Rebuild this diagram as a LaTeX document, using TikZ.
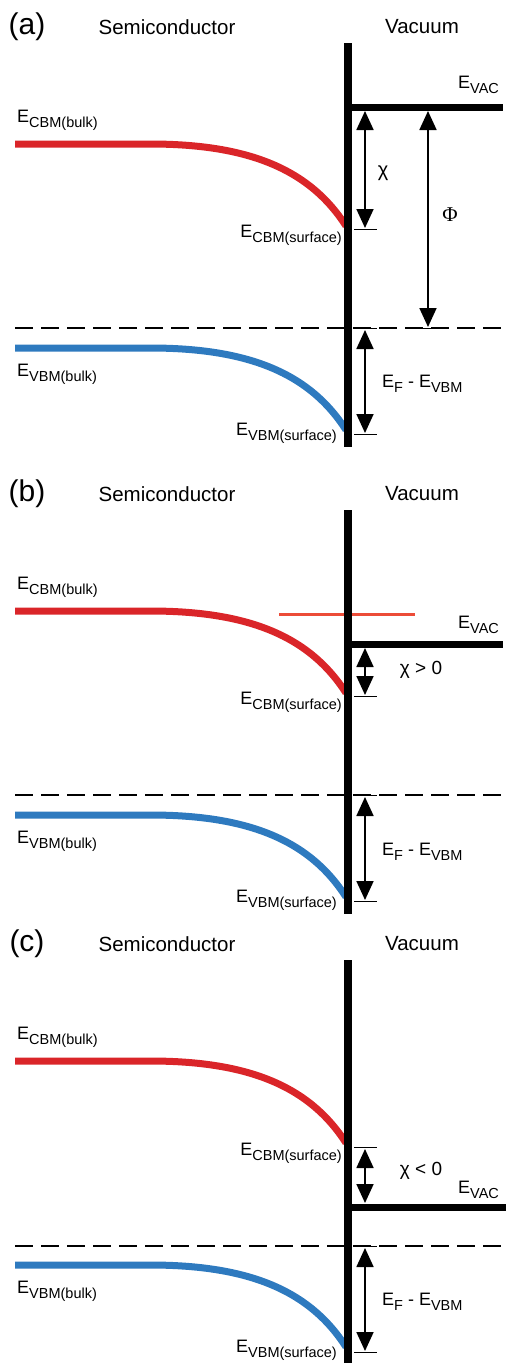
\documentclass[tikz,border=0pt]{standalone}
\usepackage{fontspec}
\setmainfont{Liberation Sans}
\newfontfamily\phifont{Liberation Serif}
\usetikzlibrary{arrows.meta}

\definecolor{cbmred}{RGB}{218,37,41}
\definecolor{vbmblue}{RGB}{46,122,191}
\definecolor{vacred}{RGB}{236,76,56}

\newcommand{\lvl}[1]{E\raisebox{-5.5pt}{\fontsize{14.5}{14}\selectfont #1}}

\begin{document}
\begin{tikzpicture}[
    x=1pt, y=-1pt,
    font=\fontsize{18}{20}\selectfont,
    panel/.style={font=\fontsize{30}{32}\selectfont, inner sep=0},
    region/.style={font=\fontsize{20.5}{22}\selectfont, inner sep=0},
    level/.style={inner sep=0},
    wall/.style={line width=7.5pt},
    vaclevel/.style={line width=7pt},
    cband/.style={cbmred, line width=7pt},
    vband/.style={vbmblue, line width=7pt},
    fermi/.style={line width=2pt, dash pattern=on 18pt off 8pt},
    dim/.style={{Triangle[length=19pt,width=17pt]}-{Triangle[length=19pt,width=17pt]}, line width=1.8pt},
    tick/.style={line width=0.8pt}
]
\useasboundingbox (0,0) rectangle (506,1363);

% ---------------- Panel (a) ----------------
\node[panel] (lbl-a) at (27,27) {(a)};
\node[region] (semi-a) at (167,27) {Semiconductor};
\node[region] (vac-a) at (422,27) {Vacuum};

\coordinate (bartop-a) at (348,43);
\coordinate (barbot-a) at (348,447);
\coordinate (cb0-a) at (15,144);
\coordinate (cbs-a) at (346,226);
\coordinate (vb0-a) at (15,348);
\coordinate (vbs-a) at (346,430);
\coordinate (ef0-a) at (15,328);
\coordinate (ef1-a) at (506,328);
\coordinate (vac0-a) at (348,107);
\coordinate (vac1-a) at (503,107);

\draw[fermi] (ef0-a) -- (ef1-a);
\draw[cband] (cb0-a) -- ++(135,0) .. controls +(100,0) and +(-36,-56) .. (cbs-a);
\draw[vband] (vb0-a) -- ++(135,0) .. controls +(100,0) and +(-36,-56) .. (vbs-a);
\draw[vaclevel] (vac0-a) -- (vac1-a);
\draw[wall] (bartop-a) -- (barbot-a);

\coordinate (chitop-a) at (365,111);
\coordinate (chibot-a) at (365,228);
\coordinate (phitop-a) at (428,111);
\coordinate (phibot-a) at (428,327);
\coordinate (eftop-a) at (365,330);
\coordinate (efbot-a) at (365,433);
\draw[dim] (chitop-a) -- (chibot-a);
\draw[dim] (phitop-a) -- (phibot-a);
\draw[dim] (eftop-a) -- (efbot-a);
\draw[tick] (354,229) -- (377,229);
\draw[tick] (414,328) -- (442,328);
\draw[tick] (354,328) -- (377,328);
\draw[tick] (354,434) -- (377,434);

\node[level, anchor=base west] (cbmbulk-a) at (17,122) {\lvl{CBM(bulk)}};
\node[level, anchor=base east] (cbmsurf-a) at (342,237) {\lvl{CBM(surface)}};
\node[level, anchor=base west] (vbmbulk-a) at (17,376) {\lvl{VBM(bulk)}};
\node[level, anchor=base east] (vbmsurf-a) at (337,435) {\lvl{VBM(surface)}};
\node[level, anchor=base west] (evac-a) at (458,88) {\lvl{VAC}};
\node[level, font=\fontsize{20}{22}\selectfont] (chi-a) at (383,173) {χ};
\node[level, font=\fontsize{21}{22}\selectfont\phifont] (phi-a) at (450,215) {Φ};
\node[level, anchor=base west] (efvbm-a) at (382,387) {\lvl{F} - \lvl{VBM}};

% ---------------- Panel (b) ----------------
\node[panel] (lbl-b) at (27,494) {(b)};
\node[region] (semi-b) at (167,494) {Semiconductor};
\node[region] (vac-b) at (422,494) {Vacuum};

\coordinate (bartop-b) at (348,510);
\coordinate (barbot-b) at (348,914);
\coordinate (cb0-b) at (15,611);
\coordinate (cbs-b) at (346,693);
\coordinate (vb0-b) at (15,815);
\coordinate (vbs-b) at (346,897);
\coordinate (ef0-b) at (15,795);
\coordinate (ef1-b) at (506,795);
\coordinate (vac0-b) at (348,644);
\coordinate (vac1-b) at (503,644);
\coordinate (old0-b) at (279,614);
\coordinate (old1-b) at (415,614);

\draw[fermi] (ef0-b) -- (ef1-b);
\draw[cband] (cb0-b) -- ++(135,0) .. controls +(100,0) and +(-36,-56) .. (cbs-b);
\draw[vband] (vb0-b) -- ++(135,0) .. controls +(100,0) and +(-36,-56) .. (vbs-b);
\draw[vacred, line width=3pt] (old0-b) -- (old1-b);
\draw[vaclevel] (vac0-b) -- (vac1-b);
\draw[wall] (bartop-b) -- (barbot-b);

\coordinate (chitop-b) at (365,648);
\coordinate (chibot-b) at (365,695);
\coordinate (eftop-b) at (365,797);
\coordinate (efbot-b) at (365,900);
\draw[dim] (chitop-b) -- (chibot-b);
\draw[dim] (eftop-b) -- (efbot-b);
\draw[tick] (354,696) -- (377,696);
\draw[tick] (354,795) -- (377,795);
\draw[tick] (354,901) -- (377,901);

\node[level, anchor=base west] (cbmbulk-b) at (17,589) {\lvl{CBM(bulk)}};
\node[level, anchor=base east] (cbmsurf-b) at (342,704) {\lvl{CBM(surface)}};
\node[level, anchor=base west] (vbmbulk-b) at (17,843) {\lvl{VBM(bulk)}};
\node[level, anchor=base east] (vbmsurf-b) at (337,902) {\lvl{VBM(surface)}};
\node[level, anchor=base west] (evac-b) at (458,628) {\lvl{VAC}};
\node[level, font=\fontsize{19}{22}\selectfont] (chi-b) at (421,670) {χ > 0};
\node[level, anchor=base west] (efvbm-b) at (382,855) {\lvl{F} - \lvl{VBM}};

% ---------------- Panel (c) ----------------
\node[panel] (lbl-c) at (27,944) {(c)};
\node[region] (semi-c) at (167,944) {Semiconductor};
\node[region] (vac-c) at (422,944) {Vacuum};

\coordinate (bartop-c) at (348,960);
\coordinate (barbot-c) at (348,1363);
\coordinate (cb0-c) at (15,1061);
\coordinate (cbs-c) at (346,1143);
\coordinate (vb0-c) at (15,1265);
\coordinate (vbs-c) at (346,1347);
\coordinate (ef0-c) at (15,1246);
\coordinate (ef1-c) at (506,1246);
\coordinate (vac0-c) at (348,1207);
\coordinate (vac1-c) at (506,1207);

\draw[fermi] (ef0-c) -- (ef1-c);
\draw[cband] (cb0-c) -- ++(135,0) .. controls +(100,0) and +(-36,-56) .. (cbs-c);
\draw[vband] (vb0-c) -- ++(135,0) .. controls +(100,0) and +(-36,-56) .. (vbs-c);
\draw[vaclevel] (vac0-c) -- (vac1-c);
\draw[wall] (bartop-c) -- (barbot-c);

\coordinate (chitop-c) at (365,1149);
\coordinate (chibot-c) at (365,1203);
\coordinate (eftop-c) at (365,1248);
\coordinate (efbot-c) at (365,1351);
\draw[dim] (chitop-c) -- (chibot-c);
\draw[dim] (eftop-c) -- (efbot-c);
\draw[tick] (354,1147) -- (377,1147);
\draw[tick] (354,1246) -- (377,1246);
\draw[tick] (354,1352) -- (377,1352);

\node[level, anchor=base west] (cbmbulk-c) at (17,1039) {\lvl{CBM(bulk)}};
\node[level, anchor=base east] (cbmsurf-c) at (342,1155) {\lvl{CBM(surface)}};
\node[level, anchor=base west] (vbmbulk-c) at (17,1293) {\lvl{VBM(bulk)}};
\node[level, anchor=base east] (vbmsurf-c) at (337,1352) {\lvl{VBM(surface)}};
\node[level, anchor=base west] (evac-c) at (458,1193) {\lvl{VAC}};
\node[level, font=\fontsize{19}{22}\selectfont] (chi-c) at (421,1171) {χ < 0};
\node[level, anchor=base west] (efvbm-c) at (382,1305) {\lvl{F} - \lvl{VBM}};

\end{tikzpicture}
\end{document}
